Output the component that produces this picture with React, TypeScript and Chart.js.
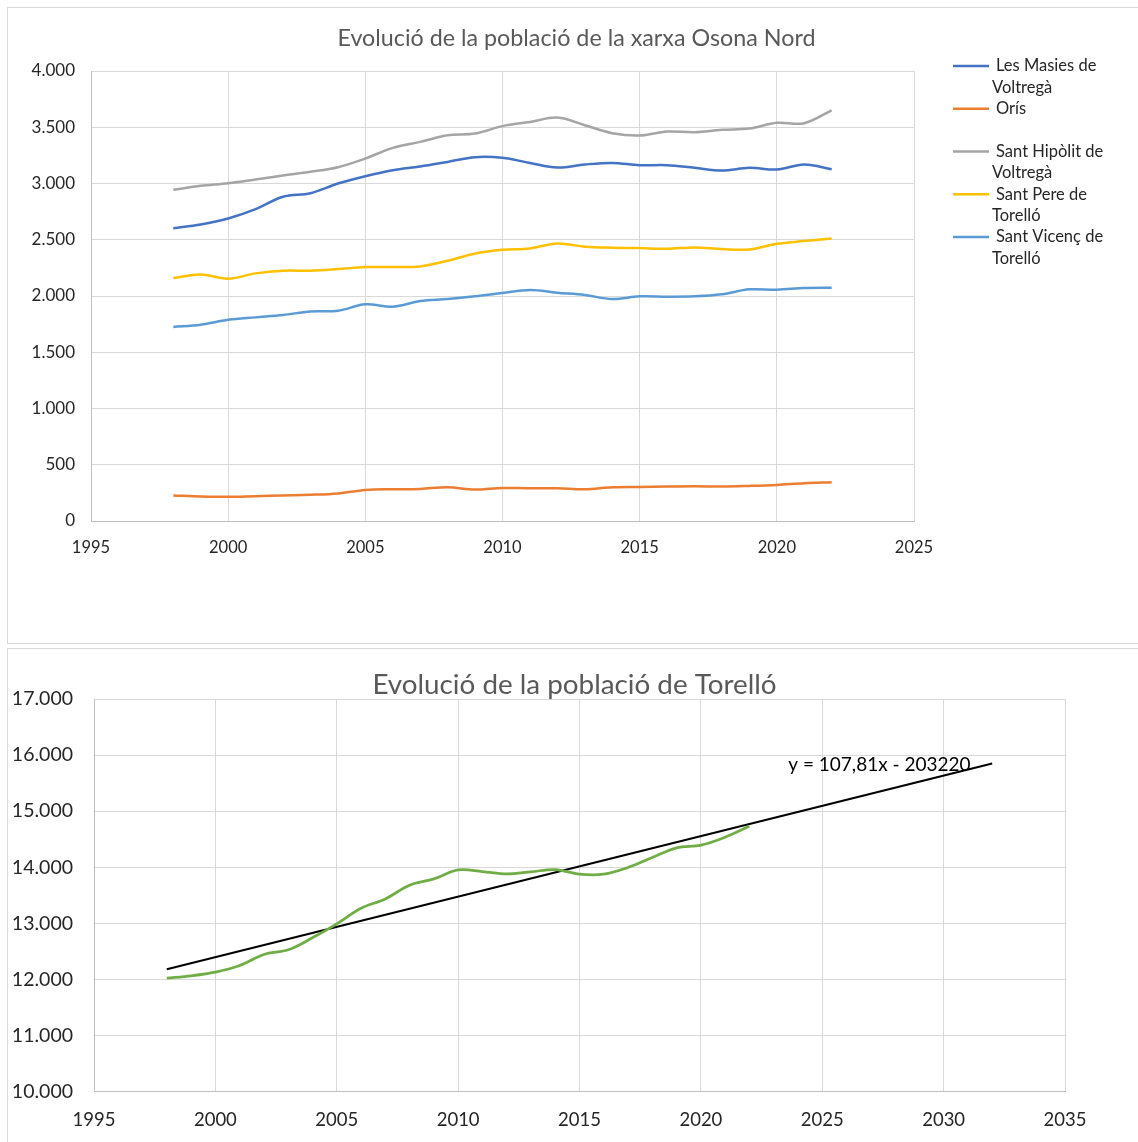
import React, { useEffect, useRef } from 'react';
import { Chart, registerables } from 'chart.js';

Chart.register(...registerables);

const FONT = 'Lato';

// ---------- data ----------
const years = [1998, 1999, 2000, 2001, 2002, 2003, 2004, 2005, 2006, 2007, 2008, 2009, 2010, 2011, 2012, 2013, 2014, 2015, 2016, 2017, 2018, 2019, 2020, 2021, 2022];

const seriesNames = ['Les Masies de Voltregà', 'Orís', 'Sant Hipòlit de Voltregà', 'Sant Pere de Torelló', 'Sant Vicenç de Torelló'];
const seriesColors = ['#4472C4', '#ED7D31', '#A5A5A5', '#FFC000', '#5B9BD5'];

const masies = [2603, 2636, 2689, 2772, 2882, 2914, 3000, 3065, 3118, 3151, 3192, 3234, 3228, 3183, 3142, 3169, 3183, 3163, 3163, 3139, 3115, 3139, 3124, 3169, 3127];
const oris = [227, 218, 215, 221, 227, 233, 245, 276, 282, 285, 300, 279, 294, 291, 291, 282, 300, 303, 306, 309, 306, 312, 321, 336, 345];
const hipolit = [2944, 2979, 3003, 3036, 3071, 3104, 3145, 3222, 3317, 3370, 3429, 3444, 3510, 3547, 3586, 3518, 3447, 3426, 3462, 3456, 3477, 3488, 3539, 3536, 3651];
const pere = [2160, 2192, 2154, 2201, 2225, 2225, 2239, 2257, 2257, 2263, 2313, 2378, 2411, 2423, 2467, 2438, 2429, 2426, 2420, 2432, 2417, 2414, 2464, 2488, 2512];
const vicenc = [1725, 1745, 1788, 1810, 1831, 1863, 1869, 1926, 1905, 1955, 1973, 1997, 2026, 2053, 2029, 2009, 1973, 1997, 1994, 1997, 2015, 2059, 2056, 2071, 2074];

const torello = [12024, 12065, 12131, 12249, 12446, 12529, 12743, 12992, 13271, 13437, 13681, 13794, 13954, 13925, 13883, 13919, 13960, 13877, 13877, 13996, 14174, 14346, 14394, 14536, 14732];
const trendYears = [1998, 2032];
const trendValues = [12184, 15850];
const trendLabel = 'y = 107,81x - 203220';

const topTitle = 'Evolució de la població de la xarxa Osona Nord';
const bottomTitle = 'Evolució de la població de Torelló';

const topX = { min: 1995, max: 2025, step: 5 };
const topY = { min: 0, max: 4000, step: 500 };
const botX = { min: 1995, max: 2035, step: 5 };
const botY = { min: 10000, max: 17000, step: 1000 };

// ---------- helpers ----------
const fmt = (v: number) => Math.round(v).toString().replace(/\B(?=(\d{3})+(?!\d))/g, '.');

function wrapText(ctx: CanvasRenderingContext2D, text: string, maxWidth: number): string[] {
  const words = text.split(' ');
  const lines: string[] = [];
  let cur = '';
  for (const w of words) {
    const test = cur ? cur + ' ' + w : w;
    if (cur && ctx.measureText(test).width > maxWidth) {
      lines.push(cur);
      cur = w;
    } else {
      cur = test;
    }
  }
  if (cur) lines.push(cur);
  return lines;
}

const GRID = '#d9d9d9';
const AXIS = '#bfbfbf';
const LABEL = '#262626';
const TITLE = '#595959';

function makeTitlePlugin(text: string, size: number, cy: number) {
  return {
    id: 'centerTitle',
    afterDraw(chart: any) {
      const ctx: CanvasRenderingContext2D = chart.ctx;
      ctx.save();
      ctx.font = `${size}px ${FONT}`;
      ctx.fillStyle = TITLE;
      ctx.textAlign = 'center';
      ctx.textBaseline = 'middle';
      ctx.fillText(text, chart.width / 2, cy);
      ctx.restore();
    },
  };
}

function TopChart() {
  const ref = useRef<HTMLCanvasElement>(null);
  useEffect(() => {
    const all = [masies, oris, hipolit, pere, vicenc];
    const legendPlugin = {
      id: 'excelLegend',
      afterDraw(chart: any) {
        const ctx: CanvasRenderingContext2D = chart.ctx;
        ctx.save();
        ctx.font = `16.5px ${FONT}`;
        ctx.textBaseline = 'middle';
        ctx.textAlign = 'left';
        ctx.fillStyle = LABEL;
        const sx = 945, sw = 36, top = 58, gap = 42.75, lh = 21.5;
        chart.data.datasets.forEach((ds: any, i: number) => {
          const y0 = top + i * gap;
          ctx.strokeStyle = ds.borderColor;
          ctx.lineWidth = 2.5;
          ctx.beginPath();
          ctx.moveTo(sx, y0);
          ctx.lineTo(sx + sw, y0);
          ctx.stroke();
          const lines = wrapText(ctx, ds.label, 128);
          lines.forEach((ln, j) => {
            ctx.fillText(ln, j === 0 ? 988 : 984, y0 + j * lh);
          });
        });
        ctx.restore();
      },
    };
    const chart = new Chart(ref.current!, {
      type: 'line',
      data: {
        datasets: all.map((vals, k) => ({
          label: seriesNames[k],
          data: years.map((x, i) => ({ x, y: vals[i] })),
          borderColor: seriesColors[k],
          backgroundColor: seriesColors[k],
          borderWidth: 2.5,
          pointRadius: 0,
          tension: 0.35,
          fill: false,
        })),
      },
      options: {
        responsive: false,
        animation: false,
        events: [],
        layout: { padding: { left: 0, right: 231, top: 63, bottom: 81 } },
        plugins: {
          legend: { display: false },
          tooltip: { enabled: false },
          title: { display: false },
        },
        scales: {
          x: {
            type: 'linear',
            min: topX.min,
            max: topX.max,
            ticks: { stepSize: topX.step, callback: (v: any) => String(v), font: { family: FONT, size: 16.5 }, color: LABEL, padding: 16.5, maxRotation: 0, autoSkip: false },
            grid: { color: GRID, drawTicks: false, lineWidth: 1 },
            border: { color: AXIS, width: 1 },
            afterFit: (s: any) => { s.height = 40; },
          },
          y: {
            type: 'linear',
            min: topY.min,
            max: topY.max,
            ticks: { stepSize: topY.step, callback: (v: any) => fmt(Number(v)), font: { family: FONT, size: 17 }, color: LABEL, padding: 16 },
            grid: { color: GRID, drawTicks: false, lineWidth: 1 },
            border: { color: AXIS, width: 1 },
            afterFit: (s: any) => { s.width = 83; },
          },
        },
      } as any,
      plugins: [legendPlugin, makeTitlePlugin(topTitle, 23.3, 30.5)],
    });
    return () => chart.destroy();
  }, []);
  return <canvas ref={ref} width={1137} height={634} style={{ display: 'block', width: 1137, height: 634 }} />;
}

function BottomChart() {
  const ref = useRef<HTMLCanvasElement>(null);
  useEffect(() => {
    const eqPlugin = {
      id: 'trendEq',
      afterDatasetsDraw(chart: any) {
        const ctx: CanvasRenderingContext2D = chart.ctx;
        const xs = chart.scales.x, ys = chart.scales.y;
        const px = xs.getPixelForValue(2023.6);
        const py = ys.getPixelForValue(15824);
        ctx.save();
        ctx.font = `19px ${FONT}`;
        ctx.fillStyle = '#000000';
        ctx.textAlign = 'left';
        ctx.textBaseline = 'middle';
        ctx.fillText(trendLabel, px, py);
        ctx.restore();
      },
    };
    const chart = new Chart(ref.current!, {
      type: 'line',
      data: {
        datasets: [
          {
            label: 'Torelló',
            data: years.map((x, i) => ({ x, y: torello[i] })),
            borderColor: '#70AD47',
            borderWidth: 2.75,
            pointRadius: 0,
            tension: 0.35,
            fill: false,
          },
          {
            label: 'Lineal (Torelló)',
            data: trendYears.map((x, i) => ({ x, y: trendValues[i] })),
            borderColor: '#000000',
            borderWidth: 2,
            pointRadius: 0,
            tension: 0,
            fill: false,
          },
        ],
      },
      options: {
        responsive: false,
        animation: false,
        events: [],
        layout: { padding: { left: 0, right: 76, top: 50, bottom: 17.3 } },
        plugins: {
          legend: { display: false },
          tooltip: { enabled: false },
          title: { display: false },
        },
        scales: {
          x: {
            type: 'linear',
            min: botX.min,
            max: botX.max,
            ticks: { stepSize: botX.step, callback: (v: any) => String(v), font: { family: FONT, size: 18.5 }, color: LABEL, padding: 17, maxRotation: 0, autoSkip: false },
            grid: { color: GRID, drawTicks: false, lineWidth: 1 },
            border: { color: AXIS, width: 1 },
            afterFit: (s: any) => { s.height = 40; },
          },
          y: {
            type: 'linear',
            min: botY.min,
            max: botY.max,
            ticks: { stepSize: botY.step, callback: (v: any) => fmt(Number(v)), font: { family: FONT, size: 19.5 }, color: LABEL, padding: 21 },
            grid: { color: GRID, drawTicks: false, lineWidth: 1 },
            border: { color: AXIS, width: 1 },
            afterFit: (s: any) => { s.width = 86; },
          },
        },
      } as any,
      plugins: [eqPlugin, makeTitlePlugin(bottomTitle, 27.8, 36)],
    });
    return () => chart.destroy();
  }, []);
  return <canvas ref={ref} width={1133} height={500} style={{ display: 'block', width: 1133, height: 500 }} />;
}

export default function App() {
  return (
    <div style={{ position: 'absolute', left: 0, top: 0, width: 1138, height: 1142, overflow: 'hidden', background: '#ffffff' }}>
      <div style={{ position: 'absolute', left: 7, top: 7, width: 1140, height: 637, boxSizing: 'border-box', border: '1px solid #d9d9d9', background: '#fff' }}>
        <TopChart />
      </div>
      <div style={{ position: 'absolute', left: 7, top: 648, width: 1136, height: 520, boxSizing: 'border-box', border: '1px solid #d9d9d9', background: '#fff', overflow: 'hidden' }}>
        <BottomChart />
      </div>
    </div>
  );
}
